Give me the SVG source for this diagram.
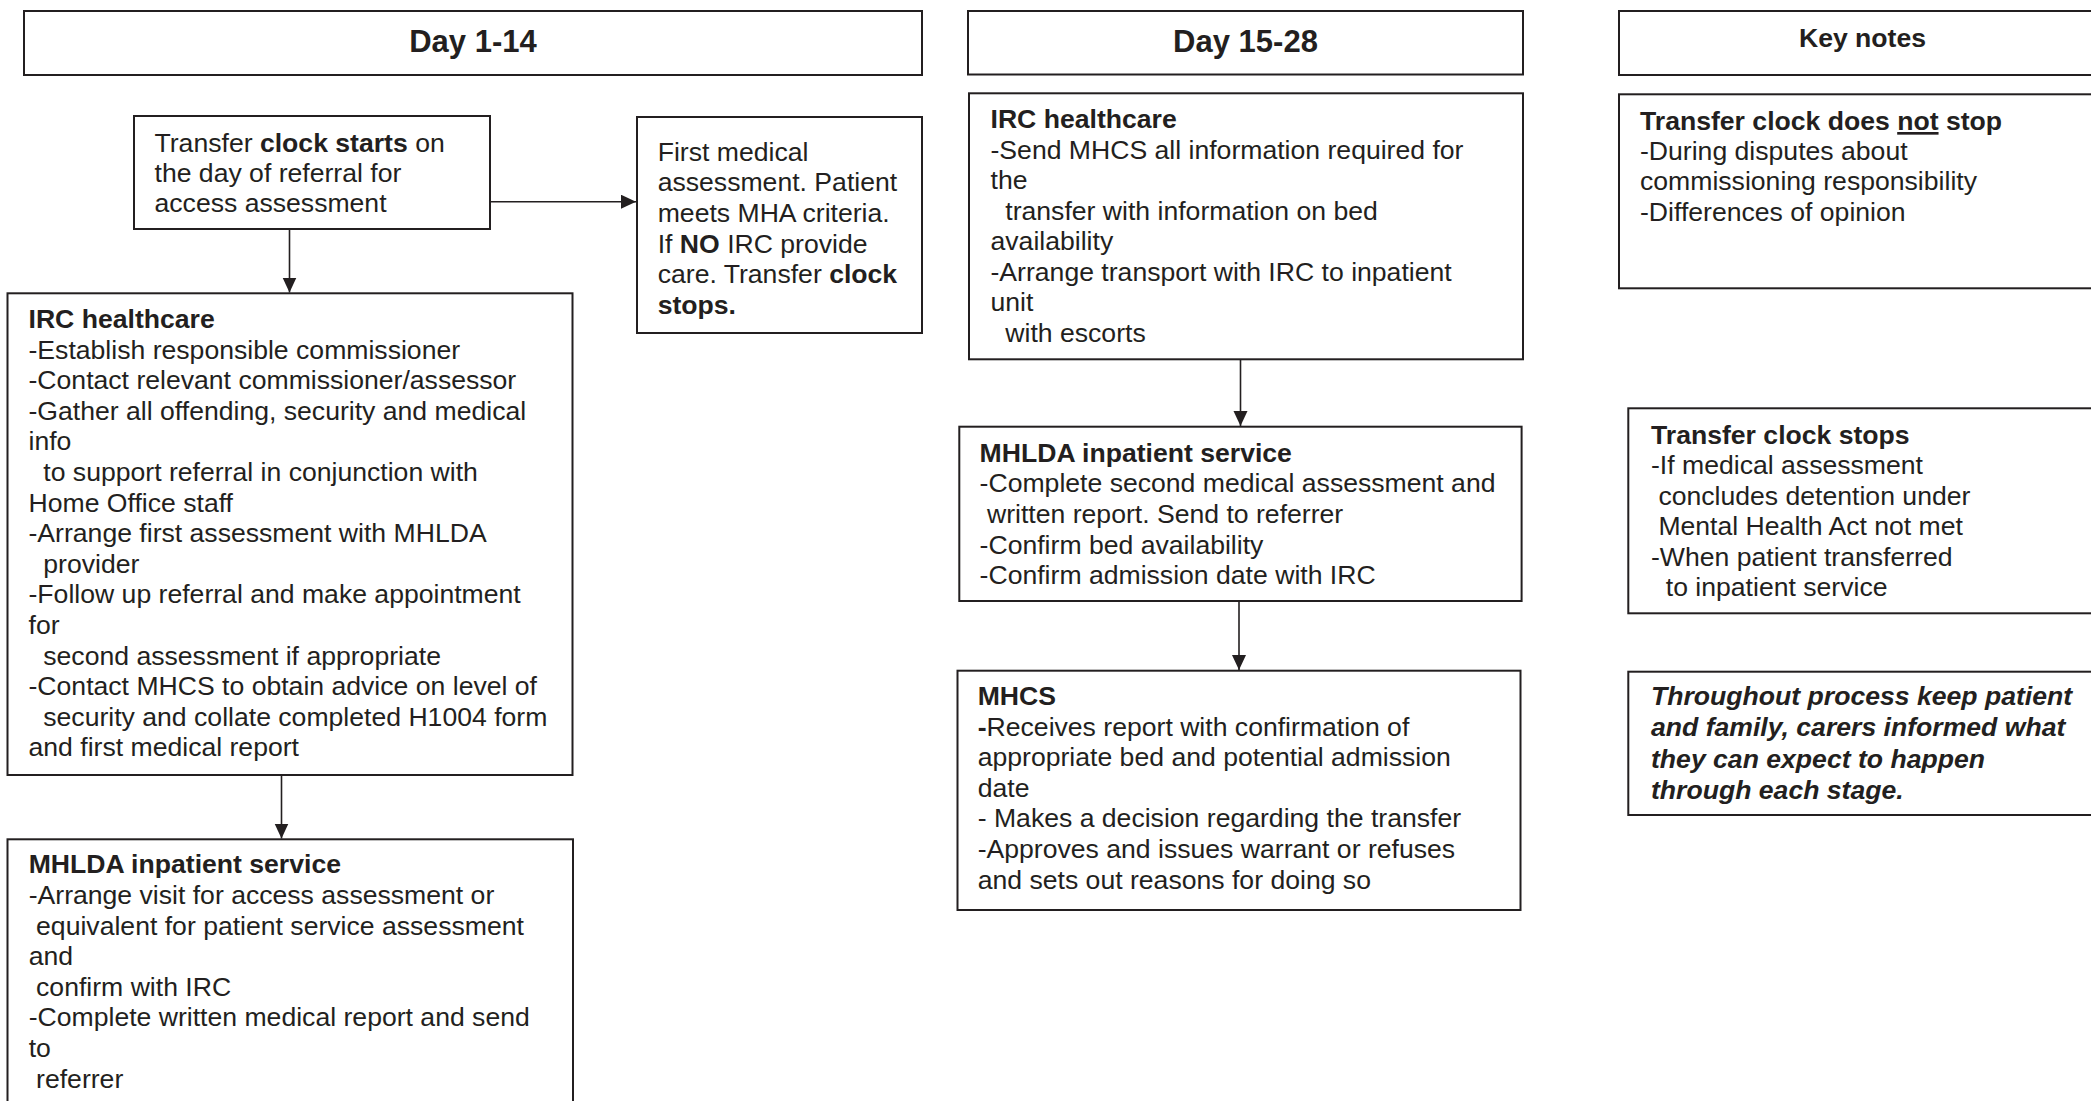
<svg xmlns="http://www.w3.org/2000/svg" width="2091" height="1101" viewBox="0 0 2091 1101" xml:space="preserve">
<style>
.bg{fill:#ffffff}
.box{fill:#ffffff;stroke:#231f20;stroke-width:2}
.t{font-family:"Liberation Sans",Arial,sans-serif;font-size:26.6px;fill:#231f20;white-space:pre}
.b{font-weight:bold}
.bi{font-weight:bold;font-style:italic}
.h{font-family:"Liberation Sans",Arial,sans-serif;font-size:31px;font-weight:bold;fill:#231f20;text-anchor:middle}
.hk{font-family:"Liberation Sans",Arial,sans-serif;font-size:26.6px;font-weight:bold;fill:#231f20;text-anchor:middle}
.conn{stroke:#231f20;stroke-width:1.6;fill:none}
</style>
<defs>
<marker id="arr" markerUnits="userSpaceOnUse" markerWidth="16" markerHeight="15" refX="15" refY="7" orient="auto">
<path d="M0,0 L15,7 L0,14 z" fill="#231f20"/>
</marker>
</defs>
<rect class="bg" x="0" y="0" width="2091" height="1101"/>

<g id="connectors">
<line class="conn" x1="490" y1="201.7" x2="636" y2="201.7" marker-end="url(#arr)"/>
<line class="conn" x1="289.5" y1="229" x2="289.5" y2="292.5" marker-end="url(#arr)"/>
<line class="conn" x1="281.5" y1="775" x2="281.5" y2="838.5" marker-end="url(#arr)"/>
<line class="conn" x1="1240.5" y1="359" x2="1240.5" y2="426" marker-end="url(#arr)"/>
<line class="conn" x1="1239" y1="601" x2="1239" y2="670" marker-end="url(#arr)"/>
</g>

<g id="header-day1-14">
<rect class="box" x="24" y="11" width="898" height="64"/>
<text class="h" x="473" y="52">Day 1-14</text>
</g>

<g id="header-day15-28">
<rect class="box" x="968" y="11" width="555" height="63.5"/>
<text class="h" x="1245.5" y="52">Day 15-28</text>
</g>

<g id="header-keynotes">
<rect class="box" x="1619" y="11" width="490" height="64"/>
<text class="hk" x="1862.5" y="47">Key notes</text>
</g>

<g id="node-clock-starts">
<rect class="box" x="134" y="116" width="356" height="113"/>
<text class="t" x="154.5" y="151.5">Transfer <tspan class="b">clock starts</tspan> on</text>
<text class="t" x="154.5" y="181.8">the day of referral for</text>
<text class="t" x="154.5" y="212">access assessment</text>
</g>

<g id="node-first-medical">
<rect class="box" x="637" y="117" width="285" height="216"/>
<text class="t" x="657.7" y="160.7">First medical</text>
<text class="t" x="657.7" y="191.3">assessment. Patient</text>
<text class="t" x="657.7" y="222">meets MHA criteria.</text>
<text class="t" x="657.7" y="252.6">If <tspan class="b">NO</tspan> IRC provide</text>
<text class="t" x="657.7" y="283.2">care. Transfer <tspan class="b">clock</tspan></text>
<text class="t b" x="657.7" y="313.8">stops.</text>
</g>

<g id="node-irc-healthcare-1">
<rect class="box" x="7.5" y="293.3" width="565" height="481.7"/>
<text class="t b" x="28.5" y="328">IRC healthcare</text>
<text class="t" x="28.5" y="358.6">-Establish responsible commissioner</text>
<text class="t" x="28.5" y="389.2">-Contact relevant commissioner/assessor</text>
<text class="t" x="28.5" y="419.8">-Gather all offending, security and medical</text>
<text class="t" x="28.5" y="450.4">info</text>
<text class="t" x="28.5" y="481">  to support referral in conjunction with</text>
<text class="t" x="28.5" y="511.6">Home Office staff</text>
<text class="t" x="28.5" y="542.2">-Arrange first assessment with MHLDA</text>
<text class="t" x="28.5" y="572.8">  provider</text>
<text class="t" x="28.5" y="603.4">-Follow up referral and make appointment</text>
<text class="t" x="28.5" y="634">for</text>
<text class="t" x="28.5" y="664.6">  second assessment if appropriate</text>
<text class="t" x="28.5" y="695.2">-Contact MHCS to obtain advice on level of</text>
<text class="t" x="28.5" y="725.8">  security and collate completed H1004 form</text>
<text class="t" x="28.5" y="756.4">and first medical report</text>
</g>

<g id="node-mhlda-1">
<rect class="box" x="7.5" y="839.3" width="565.5" height="280"/>
<text class="t b" x="28.7" y="873.3">MHLDA inpatient service</text>
<text class="t" x="28.7" y="904">-Arrange visit for access assessment or</text>
<text class="t" x="28.7" y="934.6"> equivalent for patient service assessment</text>
<text class="t" x="28.7" y="965.2">and</text>
<text class="t" x="28.7" y="995.8"> confirm with IRC</text>
<text class="t" x="28.7" y="1026.4">-Complete written medical report and send</text>
<text class="t" x="28.7" y="1057">to</text>
<text class="t" x="28.7" y="1087.6"> referrer</text>
</g>

<g id="node-irc-healthcare-2">
<rect class="box" x="969" y="93.3" width="554" height="266"/>
<text class="t b" x="990.5" y="128.3">IRC healthcare</text>
<text class="t" x="990.5" y="158.8">-Send MHCS all information required for</text>
<text class="t" x="990.5" y="189.3">the</text>
<text class="t" x="990.5" y="219.8">  transfer with information on bed</text>
<text class="t" x="990.5" y="250.3">availability</text>
<text class="t" x="990.5" y="280.8">-Arrange transport with IRC to inpatient</text>
<text class="t" x="990.5" y="311.3">unit</text>
<text class="t" x="990.5" y="341.8">  with escorts</text>
</g>

<g id="node-mhlda-2">
<rect class="box" x="959.3" y="426.7" width="562.3" height="174.3"/>
<text class="t b" x="979.6" y="461.7">MHLDA inpatient service</text>
<text class="t" x="979.6" y="492.3">-Complete second medical assessment and</text>
<text class="t" x="979.6" y="522.9"> written report. Send to referrer</text>
<text class="t" x="979.6" y="553.5">-Confirm bed availability</text>
<text class="t" x="979.6" y="584.1">-Confirm admission date with IRC</text>
</g>

<g id="node-mhcs">
<rect class="box" x="957.5" y="670.7" width="563" height="239.3"/>
<text class="t b" x="977.7" y="705">MHCS</text>
<text class="t" x="977.7" y="735.6"><tspan class="b">-</tspan>Receives report with confirmation of</text>
<text class="t" x="977.7" y="766.2">appropriate bed and potential admission</text>
<text class="t" x="977.7" y="796.8">date</text>
<text class="t" x="977.7" y="827.4">- Makes a decision regarding the transfer</text>
<text class="t" x="977.7" y="858">-Approves and issues warrant or refuses</text>
<text class="t" x="977.7" y="888.6">and sets out reasons for doing so</text>
</g>

<g id="note-clock-not-stop">
<rect class="box" x="1619" y="94.3" width="490" height="194"/>
<text class="t b" x="1640" y="130">Transfer clock does <tspan text-decoration="underline">not</tspan> stop</text>
<text class="t" x="1640" y="159.5">-During disputes about</text>
<text class="t" x="1640" y="190">commissioning responsibility</text>
<text class="t" x="1640" y="220.5">-Differences of opinion</text>
</g>

<g id="note-clock-stops">
<rect class="box" x="1628.3" y="408.3" width="480" height="205"/>
<text class="t b" x="1651" y="443.5">Transfer clock stops</text>
<text class="t" x="1651" y="474">-If medical assessment</text>
<text class="t" x="1651" y="504.5"> concludes detention under</text>
<text class="t" x="1651" y="535"> Mental Health Act not met</text>
<text class="t" x="1651" y="565.5">-When patient transferred</text>
<text class="t" x="1651" y="596">  to inpatient service</text>
</g>

<g id="note-throughout">
<rect class="box" x="1628.3" y="671.7" width="480" height="143.3"/>
<text class="t bi" x="1651" y="705">Throughout process keep patient</text>
<text class="t bi" x="1651" y="736.3">and family, carers informed what</text>
<text class="t bi" x="1651" y="767.6">they can expect to happen</text>
<text class="t bi" x="1651" y="798.9">through each stage.</text>
</g>
</svg>
